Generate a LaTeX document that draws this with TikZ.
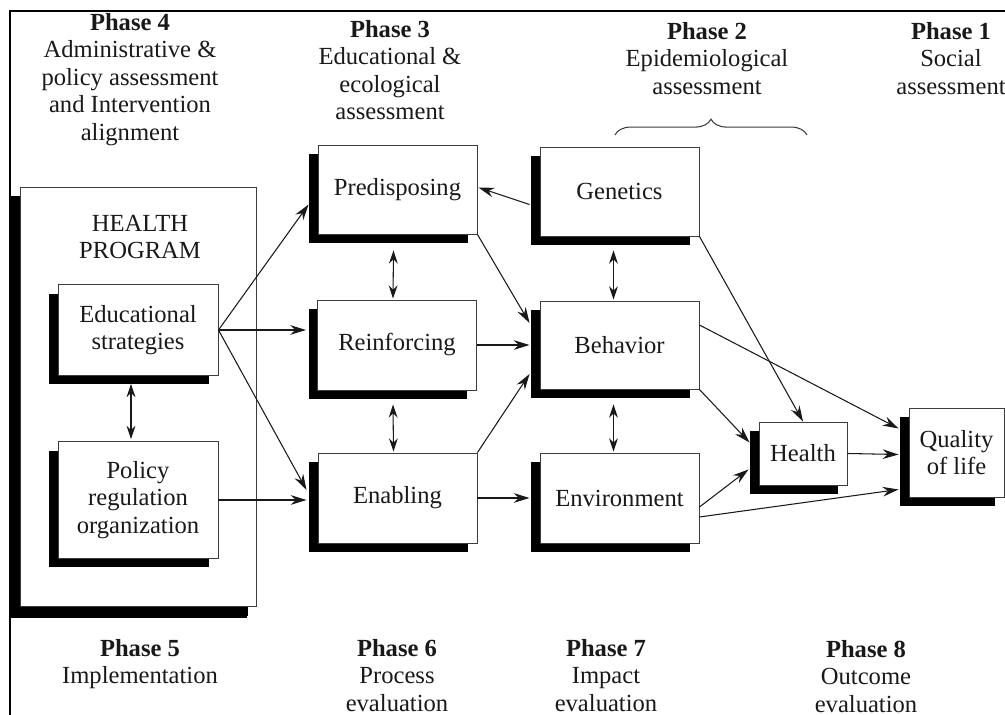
\documentclass[tikz,border=0pt]{standalone}
\usepackage{fontspec}
\setmainfont{Liberation Serif}
\usetikzlibrary{arrows.meta,calc,shadows,decorations.pathreplacing}
\definecolor{boxline}{RGB}{60,60,60}
\definecolor{inkC}{RGB}{25,25,25}
\newcommand{\phasefont}{\fontsize{14}{15.6}\selectfont}
\tikzset{
  stagebox/.style={draw=boxline, line width=0.55pt, fill=white, align=center, inner sep=2pt,
    text=inkC, font=\phasefont,
    general shadow={fill=black, shadow xshift=-0.18cm, shadow yshift=-0.18cm}},
  flow/.style={-{Stealth[length=9pt,width=5.5pt]}, line width=0.6pt, inkC},
  mutual/.style={{Stealth[length=7.5pt,width=5pt]}-{Stealth[length=7.5pt,width=5pt]}, line width=0.6pt, inkC},
  phase/.style={align=center, inner sep=0pt, anchor=north, font=\phasefont, text=inkC}
}

\begin{document}
\begin{tikzpicture}[x=0.02cm,y=-0.02cm]
\useasboundingbox (0,0) rectangle (1005,715);
\draw[line width=1.1pt] (10,715) -- (10,11) -- (1005,11);

% Phase headings, top row
\node[phase] (ph4) at (130,13) {\textbf{Phase 4}\\Administrative \&\\policy assessment\\and Intervention\\alignment};
\node[phase] (ph3) at (390,20) {\textbf{Phase 3}\\Educational \&\\ecological\\assessment};
\node[phase] (ph2) at (707,22) {\textbf{Phase 2}\\Epidemiological\\assessment};
\node[phase] (ph1) at (951,22) {\textbf{Phase 1}\\Social\\assessment};
\draw[boxline, line width=0.6pt, decorate, decoration={brace, amplitude=9pt}] (615,135) -- (807,135);

% Phase headings, bottom row
\node[phase] (ph5) at (140,639) {\textbf{Phase 5}\\Implementation};
\node[phase] (ph6) at (397,639) {\textbf{Phase 6}\\Process\\evaluation};
\node[phase] (ph7) at (606,639) {\textbf{Phase 7}\\Impact\\evaluation};
\node[phase] (ph8) at (866,640) {\textbf{Phase 8}\\Outcome\\evaluation};

% Health program
\node[stagebox, minimum width=4.74cm, minimum height=8.4cm,
  general shadow={fill=black, shadow xshift=-0.2cm, shadow yshift=-0.22cm}] (prog) at (138.5,397) {};
\node[phase] (proglabel) at (140,215) {HEALTH\\PROGRAM};
\node[stagebox, minimum width=3.2cm, minimum height=1.82cm] (edu) at (138,330) {Educational\\strategies};
\node[stagebox, minimum width=3.2cm, minimum height=2.34cm] (pol) at (138,500) {Policy\\regulation\\organization};

% Phase 3 column
\node[stagebox, minimum width=3.18cm, minimum height=1.78cm] (pred) at (397.5,189.5) {Predisposing};
\node[stagebox, minimum width=3.18cm, minimum height=1.8cm] (reinf) at (397,345) {Reinforcing};
\node[stagebox, minimum width=3.18cm, minimum height=1.8cm] (enab) at (397.5,498) {Enabling};

% Phase 2 column
\node[stagebox, minimum width=3.18cm, minimum height=1.78cm] (gen) at (619.5,191.5) {Genetics};
\node[stagebox, minimum width=3.18cm, minimum height=1.76cm] (beh) at (619.5,345) {Behavior};
\node[stagebox, minimum width=3.18cm, minimum height=1.8cm] (env) at (619.5,498) {Environment};

% Outcomes
\node[stagebox, minimum width=1.76cm, minimum height=1.26cm] (health) at (803,453.5) {Health};
\node[stagebox, minimum width=1.9cm, minimum height=1.78cm] (qol) at (956.5,452.5) {Quality\\of life};

% Arrows
\draw[flow] (edu.east) -- ($(pred.west)+(-9,15)$);
\draw[flow] (edu.east) -- ($(reinf.west)+(-11,-15)$);
\draw[flow] (edu.east) -- ($(enab.west)+(-11,-8)$);
\draw[flow] (pol.east) -- ($(enab.west)+(-11,2)$);
\draw[mutual] ($(edu.south)+(-7,8)$) -- ($(pol.north)+(-7,-2)$);

\draw[mutual] ($(pred.south)+(-4,16)$) -- ($(reinf.north)+(-4,-1)$);
\draw[mutual] ($(reinf.south)+(-4,14)$) -- ($(enab.north)+(-4,-1)$);
\draw[mutual] ($(gen.south)+(-6,14)$) -- ($(beh.north)+(-6,-1)$);
\draw[mutual] ($(beh.south)+(-6,15)$) -- ($(env.north)+(-6,-1)$);

\draw[flow] ($(gen.west)+(-10,13)$) -- ($(pred.east)+(1,-2)$);
\draw[flow] (pred.south east) -- ($(beh.west)+(-10,-22)$);
\draw[flow] (reinf.east) -- ($(beh.west)+(-10,0)$);
\draw[flow] (enab.north east) -- ($(beh.west)+(-10,29)$);
\draw[flow] (enab.east) -- ($(env.west)+(-10,0)$);

\draw[flow] (gen.south east) -- (health.north);
\draw[flow] ($(beh.east)+(0,-20)$) -- ($(qol.west)+(-10,-24)$);
\draw[flow] (beh.south east) -- ($(health.west)+(-9,-11)$);
\draw[flow] ($(env.east)+(0,9)$) -- ($(health.west)+(-10,16)$);
\draw[flow] ($(env.east)+(0,19)$) -- ($(qol.west)+(-10,37)$);
\draw[flow] (health.east) -- ($(qol.west)+(-10,2)$);
\end{tikzpicture}
\end{document}
